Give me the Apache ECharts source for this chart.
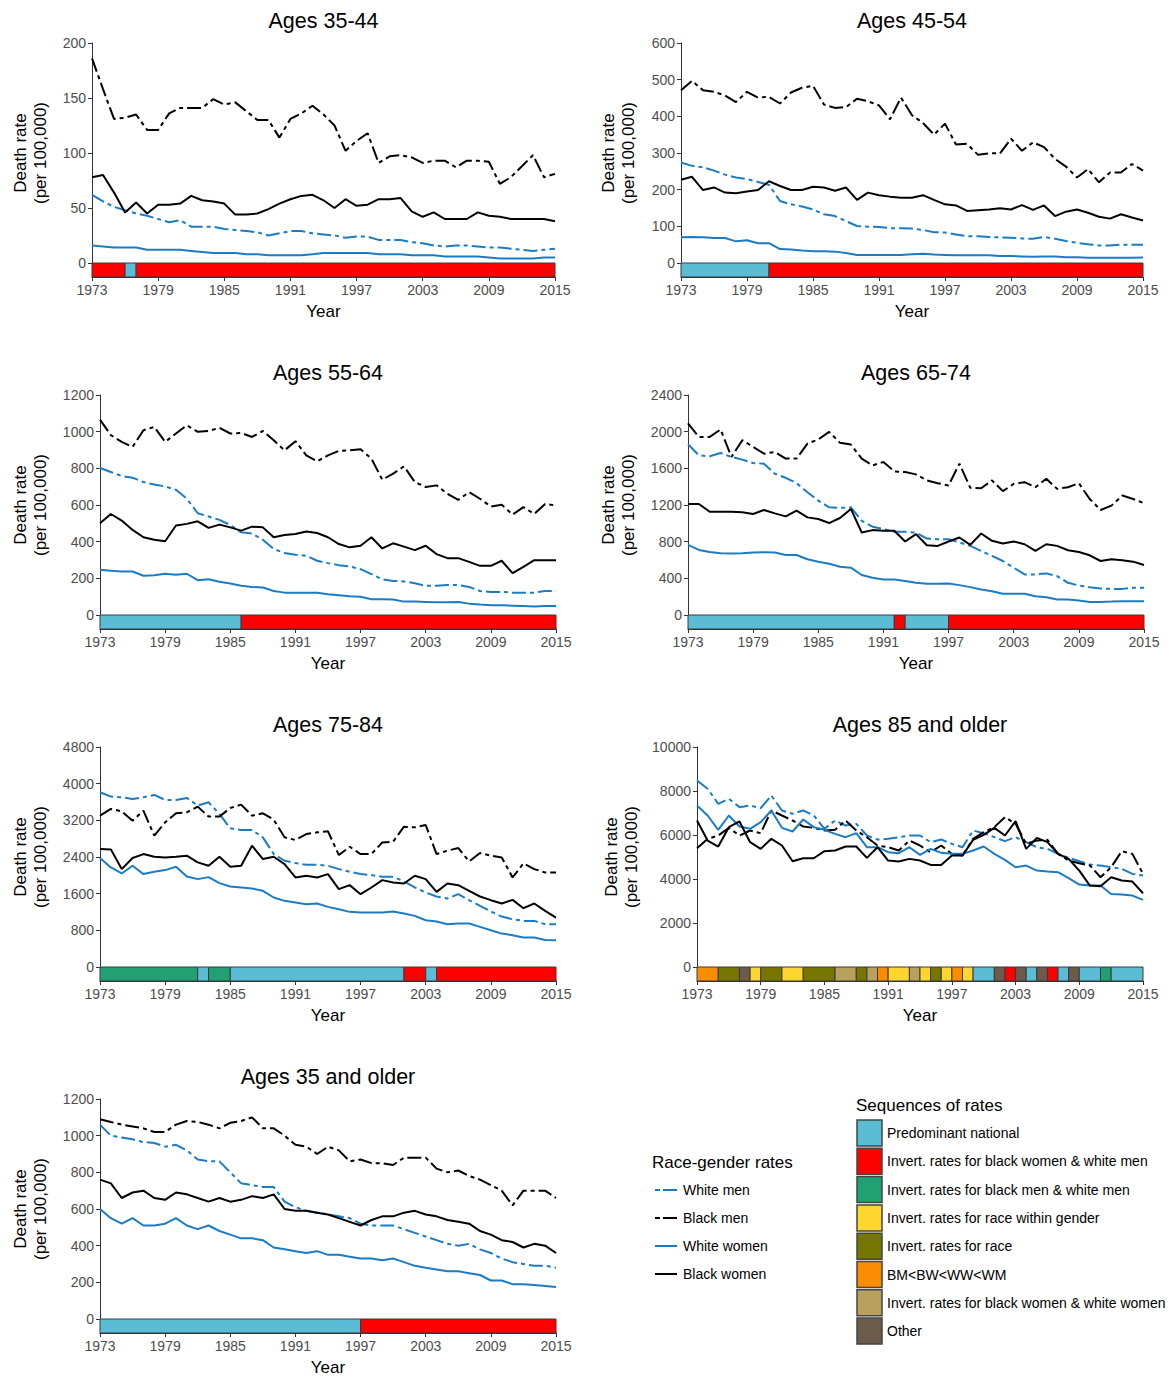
<!DOCTYPE html>
<html><head><meta charset="utf-8">
<script src="https://cdn.jsdelivr.net/npm/echarts@6/dist/echarts.min.js"></script>
<style>html,body{margin:0;padding:0;background:#fff}#c{width:1168px;height:1379px}</style>
</head><body><div id="c"></div>
<script>
// Years 1973..2015 (43 points); band cells 1973..2014 (42 cells)
const firstYear = 1973;
const yearTickStep = 6;

// Ages 35-44
const wm1 = [62,56,51,48,45,43,40,37,39,33,33,33,31,30,29,28,25,27,29,29,27,26,25,23,24,24,21,21,21,19,18,16,15,16,16,15,14,14,13,12,11,12,13];
const bm1 = [186,158,131,132,135,121,121,136,141,141,141,149,144,146,138,130,130,114,131,136,143,135,125,102,111,118,91,97,98,96,91,93,93,87,93,93,92,72,78,88,98,78,81];
const ww1 = [16,15,14,14,14,12,12,12,12,11,10,9,9,9,8,8,7,7,7,7,8,9,9,9,9,9,8,8,8,7,7,7,6,6,6,6,5,4,4,4,4,5,5];
const bw1 = [78,80,64,46,55,45,53,53,54,61,57,56,54,44,44,45,49,54,58,61,62,57,50,58,52,53,58,58,59,47,42,46,40,40,40,46,43,42,40,40,40,40,38];
const seq1 = "RRRPRR RRRRRR RRRRRR RRRRRR RRRRRR RRRRRR RRRRRR";

// Ages 45-54
const wm2 = [274,265,261,252,241,233,229,221,213,169,160,154,146,133,128,114,101,99,98,95,95,94,90,84,83,78,73,73,71,70,69,67,66,71,66,60,55,51,48,48,50,50,50];
const bm2 = [471,497,471,467,457,439,467,451,453,435,465,478,483,432,423,425,448,441,430,392,451,403,382,350,380,323,325,295,299,299,339,306,329,316,284,263,233,256,220,247,247,270,252];
const ww2 = [70,71,70,68,68,59,62,54,54,38,37,34,32,32,31,27,22,22,22,22,22,24,25,23,22,21,21,21,21,19,19,18,17,18,18,16,16,14,14,14,14,14,15];
const bw2 = [227,235,199,206,192,190,195,199,223,210,199,199,208,206,197,206,172,192,185,181,178,178,185,172,160,157,142,144,146,149,146,158,145,157,128,140,146,137,126,121,133,124,116];
const seq2 = "PPPPPP PPRRRR RRRRRR RRRRRR RRRRRR RRRRRR RRRRRR";

// Ages 55-64
const wm3 = [802,780,758,749,725,712,701,683,634,555,537,519,491,451,445,411,360,338,329,323,296,283,272,265,250,223,195,186,183,173,159,159,164,164,153,131,126,126,122,122,122,131,131];
const bm3 = [1066,981,944,917,1008,1026,944,990,1035,999,1004,1021,990,993,971,1004,953,898,948,871,838,871,895,898,904,853,738,771,811,725,698,707,661,628,670,634,592,601,548,588,551,606,597];
const ww3 = [247,241,237,237,214,217,225,219,225,190,195,181,172,159,153,150,131,122,122,121,121,113,108,102,100,86,86,84,73,73,71,69,69,71,62,57,53,53,51,49,46,49,49];
const bw3 = [500,551,515,464,424,411,402,488,497,511,475,493,478,460,482,478,424,436,442,455,447,424,387,369,378,424,363,391,373,354,378,332,310,310,290,268,268,296,228,263,299,299,299];
const seq3 = "PPPPPP PPPPPP PRRRRR RRRRRR RRRRRR RRRRRR RRRRRR";

// Ages 65-74
const wm4 = [1863,1742,1731,1768,1724,1695,1658,1651,1541,1497,1438,1340,1248,1175,1168,1175,1028,963,937,908,908,900,834,827,827,791,754,699,644,589,516,443,443,454,425,351,322,304,289,285,285,296,296];
const bm4 = [2090,1943,1943,2024,1724,1907,1834,1760,1779,1706,1706,1870,1914,1998,1878,1859,1706,1632,1669,1566,1559,1534,1468,1438,1413,1651,1387,1383,1468,1351,1431,1449,1394,1486,1376,1394,1438,1266,1146,1193,1303,1266,1219];
const ww4 = [765,710,688,673,670,673,681,684,681,655,655,608,582,560,527,516,436,406,388,388,370,351,340,340,344,326,304,278,260,231,231,231,205,194,168,168,157,143,143,146,150,150,150];
const bw4 = [1211,1211,1127,1127,1127,1120,1102,1146,1109,1076,1138,1065,1047,1003,1058,1157,900,926,919,919,802,882,761,754,802,845,765,889,809,780,802,772,699,772,754,706,688,651,589,608,597,582,545];
const seq4 = "PPPPPP PPPPPP PPPPPP PRPPPP RRRRRR RRRRRR RRRRRR";

// Ages 75-84
const wm5 = [3813,3718,3703,3667,3703,3754,3645,3645,3689,3521,3594,3339,3025,2989,2989,2829,2464,2318,2267,2231,2231,2209,2136,2078,2027,2005,1968,1968,1866,1735,1626,1538,1494,1589,1458,1334,1210,1101,1042,1006,1006,933,933];
const bm5 = [3302,3448,3397,3193,3412,2865,3157,3353,3375,3499,3281,3281,3470,3543,3302,3353,3215,2829,2770,2901,2938,2960,2442,2624,2464,2464,2719,2734,3062,3047,3098,2464,2537,2595,2304,2486,2428,2391,1954,2260,2136,2063,2063];
const ww5 = [2377,2172,2041,2209,2027,2078,2114,2187,1976,1917,1961,1830,1757,1735,1713,1662,1516,1443,1407,1371,1385,1312,1261,1203,1188,1188,1188,1210,1166,1115,1021,991,933,948,948,875,802,729,693,642,642,590,583];
const bw5 = [2573,2566,2136,2377,2464,2406,2391,2406,2428,2282,2209,2406,2187,2209,2646,2355,2406,2245,1954,1990,1954,2027,1699,1786,1589,1735,1895,1844,1822,1990,1917,1640,1822,1786,1662,1538,1458,1385,1465,1283,1385,1225,1079];
const seq5 = "GGGGGG GGGPGG PPPPPP PPPPPP PPPPRR PRRRRR RRRRRR";

// Ages 85 and older
const wm6 = [8480,8100,7418,7645,7266,7342,7221,7797,7115,6963,7115,6887,6280,6660,6432,6508,5977,5795,5825,5901,5977,5977,5674,5795,5598,5446,6204,6083,5901,5719,5901,5674,5446,5370,5143,4961,4809,4657,4612,4536,4460,4232,4157];
const bm6 = [5401,5825,5977,6326,5977,6204,6083,7115,6887,6660,6387,6326,6204,6235,6660,6204,5901,5522,5446,5295,5749,5522,5219,5522,5143,5067,5825,6129,6356,6811,6508,5598,5749,5780,5143,4839,4718,4612,4081,4536,5264,5143,4232];
const ww6 = [7342,6887,6235,6887,6387,6280,6584,7115,6326,6159,6705,6356,6235,6053,5901,6083,5446,5446,5219,5173,5446,5097,5370,5188,5143,5143,5295,5477,5143,4869,4536,4612,4384,4339,4309,4035,3747,3701,3701,3322,3292,3246,3049];
const bw6 = [6660,5749,5477,6356,6614,5674,5370,5825,5522,4809,4945,4945,5264,5295,5477,5477,4961,5446,4839,4794,4915,4839,4642,4642,5067,5067,5780,6007,6326,5977,6629,5370,5871,5674,5143,4915,4384,3701,3671,4081,3929,3884,3353];
const seq6 = "NNOOXY OOYYOO OTTOTN YYTYOY NYPPXR XPXRPX PPGPPP";

// Ages 35 and older
const wm7 = [1060,1000,990,980,965,960,940,950,920,870,860,860,800,740,730,720,720,640,610,590,580,570,560,550,520,510,510,510,490,470,450,430,410,400,410,380,360,330,310,300,290,290,280];
const bm7 = [1090,1075,1060,1050,1040,1020,1020,1060,1080,1075,1060,1040,1070,1080,1100,1040,1040,1000,950,940,900,940,920,860,870,850,850,840,880,880,880,820,800,810,780,760,730,700,620,700,700,700,660];
const ww7 = [600,550,520,550,510,510,520,550,510,490,510,480,460,440,440,430,390,380,370,360,370,350,350,340,330,330,320,330,310,290,280,270,260,260,250,240,210,210,190,190,185,180,175];
const bw7 = [760,740,660,690,700,660,650,690,680,660,640,660,640,650,670,660,680,600,590,590,580,570,550,530,510,540,560,560,580,590,570,560,540,530,520,480,460,430,420,390,410,400,360];
const seq7 = "PPPPPP PPPPPP PPPPPP PPPPPP RRRRRR RRRRRR RRRRRR";

const seriesNames = ['White men','Black men','White women','Black women'];
const seqCodes = ['P','R','G','Y','O','N','T','X'];
const seqLabels = ['Predominant national','Invert. rates for black women & white men','Invert. rates for black men & white men','Invert. rates for race within gender','Invert. rates for race','BM<BW<WW<WM','Invert. rates for black women & white women','Other'];
const seqColors = {P:'#5BBCD6',R:'#FF0000',G:'#21A074',Y:'#FFD62E',O:'#767600',N:'#FA8C00',T:'#B8A05E',X:'#6C5A4A'};

const FONT = '"Liberation Sans", Arial, Helvetica, sans-serif';
const BLUE = '#1B7CC4';
const DASH = [14,4,4,4];

const panels = [
  {title:'Ages 35-44', left:92, width:463, top:43, max:200, interval:50, d:[wm1,bm1,ww1,bw1], seq:seq1, gap:42},
  {title:'Ages 45-54', left:681, width:462, top:43, max:600, interval:100, d:[wm2,bm2,ww2,bw2], seq:seq2, gap:43},
  {title:'Ages 55-64', left:100, width:456, top:395, max:1200, interval:200, d:[wm3,bm3,ww3,bw3], seq:seq3, gap:50},
  {title:'Ages 65-74', left:688, width:456, top:395, max:2400, interval:400, d:[wm4,bm4,ww4,bw4], seq:seq4, gap:50},
  {title:'Ages 75-84', left:100, width:456, top:747, max:4800, interval:800, d:[wm5,bm5,ww5,bw5], seq:seq5, gap:50},
  {title:'Ages 85 and older', left:697, width:446, top:747, max:10000, interval:2000, d:[wm6,bm6,ww6,bw6], seq:seq6, gap:56},
  {title:'Ages 35 and older', left:100, width:456, top:1099, max:1200, interval:200, d:[wm7,bm7,ww7,bw7], seq:seq7, gap:50}
];
const PH = 220, BH = 14;
const lineStyles = [
  {color:BLUE, type:DASH}, {color:'#000', type:DASH}, {color:BLUE, type:'solid'}, {color:'#000', type:'solid'}
];

function runsOf(str){
  const cells = str.replace(/\s+/g,'').split('');
  const runs = [];
  cells.forEach((c,i)=>{
    if (runs.length && runs[runs.length-1].code === c) runs[runs.length-1].end = i+1;
    else runs.push({start:i, end:i+1, code:c});
  });
  return runs;
}

const grid=[], xAxis=[], yAxis=[], series=[], graphic=[];
panels.forEach((p,k)=>{
  grid.push({left:p.left, top:p.top, width:p.width, height:PH});
  grid.push({left:p.left, top:p.top+PH, width:p.width, height:BH});
  xAxis.push({type:'value', gridIndex:2*k, min:0, max:42, show:false});
  xAxis.push({type:'value', gridIndex:2*k+1, min:0, max:42, interval:yearTickStep,
    axisLine:{show:true, lineStyle:{color:'#333', width:1}},
    axisTick:{show:true, length:4, lineStyle:{color:'#333'}},
    axisLabel:{formatter:v=>String(firstYear+v), color:'#4D4D4D', fontSize:14, margin:6, fontFamily:FONT},
    splitLine:{show:false},
    name:'Year', nameLocation:'middle', nameGap:26, nameTextStyle:{fontSize:17, color:'#000', fontFamily:FONT}});
  yAxis.push({type:'value', gridIndex:2*k, min:0, max:p.max, interval:p.interval,
    axisLine:{show:true, lineStyle:{color:'#333', width:1}},
    axisTick:{show:true, length:4, lineStyle:{color:'#333'}},
    axisLabel:{formatter:v=>String(v), color:'#4D4D4D', fontSize:14, margin:6, fontFamily:FONT},
    splitLine:{show:false},
    name:'Death rate\n(per 100,000)', nameLocation:'middle', nameRotate:90, nameGap:p.gap,
    nameTextStyle:{fontSize:17, color:'#000', lineHeight:20, fontFamily:FONT}});
  yAxis.push({type:'value', gridIndex:2*k+1, min:0, max:1, show:false});
  p.d.forEach((vals,j)=>{
    series.push({type:'line', name:seriesNames[j], xAxisIndex:2*k, yAxisIndex:2*k,
      data: vals.map((v,i)=>[i,v]), symbol:'none', showSymbol:false, silent:true,
      lineStyle:{color:lineStyles[j].color, width:2, type:lineStyles[j].type}, z:2+j});
  });
  const runs = runsOf(p.seq);
  series.push({type:'custom', xAxisIndex:2*k+1, yAxisIndex:2*k+1, silent:true,
    data: runs.map(r=>[r.start, r.end]),
    renderItem:(params, api)=>{
      const a = api.coord([api.value(0), 1]);
      const b = api.coord([api.value(1), 0]);
      return {type:'rect', shape:{x:a[0], y:a[1], width:b[0]-a[0], height:b[1]-a[1]},
        style:{fill:seqColors[runs[params.dataIndex].code], stroke:'#3A3A3A', lineWidth:1}};
    }});
  graphic.push({type:'text', x:p.left+p.width/2, y:p.top-22,
    style:{text:p.title, align:'center', verticalAlign:'middle', fontSize:21.5, fill:'#000', fontFamily:FONT}});
});

// Race-gender legend
graphic.push({type:'text', x:652, y:1162, style:{text:'Race-gender rates', align:'left', verticalAlign:'middle', fontSize:17, fill:'#000', fontFamily:FONT}});
seriesNames.forEach((n,j)=>{
  const yy = 1190 + 28*j;
  graphic.push({type:'line', shape:{x1:655, y1:yy, x2:677, y2:yy},
    style:{stroke:lineStyles[j].color, lineWidth:2, lineDash: lineStyles[j].type==='solid'? null : [5,3,14,3]}});
  graphic.push({type:'text', x:683, y:yy, style:{text:n, align:'left', verticalAlign:'middle', fontSize:14, fill:'#000', fontFamily:FONT}});
});
// Sequences legend
graphic.push({type:'text', x:856, y:1105, style:{text:'Sequences of rates', align:'left', verticalAlign:'middle', fontSize:17, fill:'#000', fontFamily:FONT}});
seqCodes.forEach((c,j)=>{
  const y0 = 1120 + 28.3*j;
  graphic.push({type:'rect', shape:{x:857, y:y0, width:25, height:26}, style:{fill:seqColors[c], stroke:'#444', lineWidth:1.5}});
  graphic.push({type:'text', x:887, y:y0+13, style:{text:seqLabels[j], align:'left', verticalAlign:'middle', fontSize:14, fill:'#000', fontFamily:FONT}});
});

const chart = echarts.init(document.getElementById('c'), null, {renderer:'svg'});
chart.setOption({animation:false, backgroundColor:'#fff', textStyle:{fontFamily:FONT},
  grid, xAxis, yAxis, series, graphic});
</script></body></html>
